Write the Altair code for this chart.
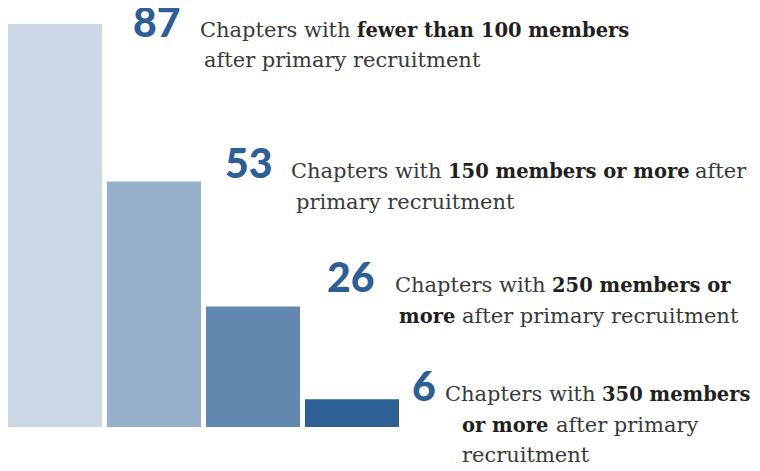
import altair as alt
import pandas as pd

# ---- data ----
categories = ["87", "53", "26", "6"]
values = [87, 53, 26, 6]
bar_colors = ["#cbd7e5", "#97b0ca", "#6388b0", "#2e6095"]

seg_text = [
    ["Chapters with", "fewer than 100 members", "after primary recruitment"],
    ["Chapters with", "150 members or more", "after", "primary recruitment"],
    ["Chapters with", "250 members or", "more", "after primary recruitment"],
    ["Chapters with", "350 members", "or more", "after primary", "recruitment"],
]
seg_bold = [[0, 1, 0], [0, 1, 0, 0], [0, 1, 1, 0], [0, 1, 1, 0, 0]]

# ---- layout (style, pixels) ----
seg_layout = [
    [(0, 0), (0, 157), (1, 4)],
    [(0, 0), (0, 157), (0, 404), (1, 5)],
    [(0, 0), (0, 157), (1, 4), (1, 67)],
    [(0, 0), (0, 157), (1, 17), (1, 111), (2, 17)],
]
num_dx = [78, 71, 74, 60]
num_dy = [13, -3.5, -15, 1.5]
text_dx = [145, 137, 142, 93]
line_dy = [[13, 43], [-3.5, 27.5], [-15, 16], [1.5, 32.5, 62.5]]

df = pd.DataFrame({"cat": categories, "value": values})

rows = []
for k, (texts, bolds) in enumerate(zip(seg_text, seg_bold)):
    for j, (t, b) in enumerate(zip(texts, bolds)):
        rows.append({"id": f"{k}_{j}", "cat": categories[k], "value": values[k],
                     "text": t, "bold": b})
seg_df = pd.DataFrame(rows)

xenc = alt.X("cat:N", sort=categories, axis=None,
             scale=alt.Scale(domain=categories, range=[0, 391],
                             paddingInner=5 / 99, paddingOuter=0))
yenc = alt.Y("value:Q", axis=None, scale=alt.Scale(domain=[0, 87], nice=False, zero=True))

bars = alt.Chart(df).mark_bar(cornerRadius=0).encode(
    x=xenc, y=yenc,
    color=alt.Color("cat:N", scale=alt.Scale(domain=categories, range=bar_colors), legend=None),
)

layers = [bars]
for k in range(len(categories)):
    num = alt.Chart(df).transform_filter(alt.datum.cat == categories[k]).mark_text(
        align="left", baseline="alphabetic", dx=num_dx[k], dy=num_dy[k],
        font="Lato", fontSize=41, fontWeight=900, color="#2d5f96",
    ).encode(x=xenc, y=yenc, text="cat:N")
    layers.append(num)
    for j, (line, xoff) in enumerate(seg_layout[k]):
        bold = seg_bold[k][j]
        seg = alt.Chart(seg_df).transform_filter(alt.datum.id == f"{k}_{j}").mark_text(
            align="left", baseline="alphabetic",
            dx=text_dx[k] + xoff, dy=line_dy[k][line],
            font="DejaVu Serif", fontSize=19.5 if bold else 21,
            fontWeight="bold" if bold else "normal",
            color="#231f20" if bold else "#3a3a3a",
        ).encode(x=xenc, y=yenc, text="text:N")
        layers.append(seg)

chart = alt.layer(*layers).properties(
    width=391, height=403,
    autosize=alt.AutoSizeParams(type="none"),
    padding={"left": 0, "top": 16, "right": 353, "bottom": 36},
).configure_view(stroke=None)

chart.save("out.html", embed_options={"renderer": "svg", "actions": False})
